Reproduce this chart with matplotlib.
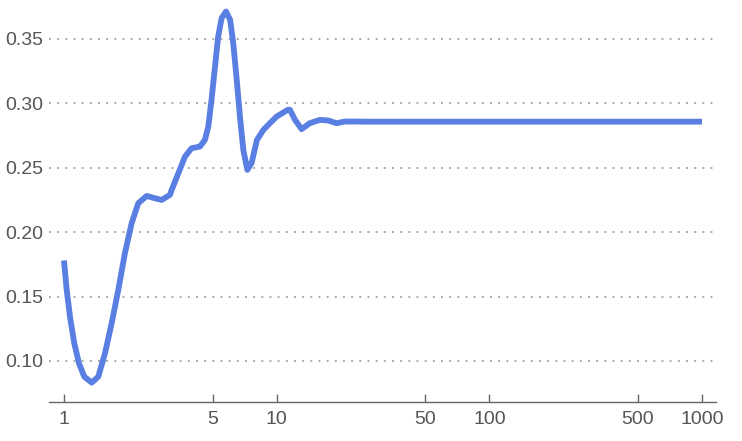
import matplotlib
matplotlib.use("Agg")
import matplotlib.pyplot as plt
from matplotlib.ticker import FixedLocator, FixedFormatter, NullLocator

# pontos (x em escala log)
xs = [1.0, 1.03, 1.067, 1.118, 1.176, 1.246, 1.35, 1.45, 1.559, 1.676, 1.8,
      1.934, 2.08, 2.235, 2.45, 2.67, 2.88, 3.15, 3.21, 3.45, 3.707, 3.98,
      4.36, 4.60, 4.77, 4.94, 5.13, 5.31, 5.51, 5.78, 6.04, 6.25, 6.49, 6.72,
      6.97, 7.28, 7.62, 8.08, 8.66, 9.29, 10.0, 11.28, 11.55, 12.2, 13.1,
      14.3, 15.97, 17.5, 19.1, 20.9, 23.7, 27.0, 40.0, 100.0, 300.0, 1000.0]
ys = [0.178, 0.155, 0.1344, 0.1137, 0.0982, 0.0878, 0.0832, 0.0878, 0.106,
      0.1293, 0.1551, 0.1836, 0.2069, 0.2224, 0.2281, 0.2263, 0.225, 0.2289,
      0.2328, 0.2457, 0.2586, 0.2651, 0.2664, 0.2716, 0.2819, 0.3026, 0.3285,
      0.3518, 0.3661, 0.3712, 0.3648, 0.3467, 0.3182, 0.2897, 0.2638, 0.2483,
      0.2535, 0.2716, 0.2793, 0.2845, 0.2897, 0.2949, 0.2949, 0.2871, 0.2799,
      0.2845, 0.2871, 0.2866, 0.2845, 0.2858, 0.2858, 0.2857, 0.2857, 0.2857,
      0.2857, 0.2857]

xticks = [1, 5, 10, 50, 100, 500, 1000]
xlabels = ["1", "5", "10", "50", "100", "500", "1000"]
yticks = [0.10, 0.15, 0.20, 0.25, 0.30, 0.35]
ylabels = ["0.10", "0.15", "0.20", "0.25", "0.30", "0.35"]

plt.rcParams['font.family'] = ['Liberation Sans', 'DejaVu Sans']

fig = plt.figure(figsize=(7.42, 4.41), dpi=100)
ax = fig.add_axes([0.066, 0.088, 0.899, 0.897])

ax.plot(xs, ys, color='#5a7fe3', linewidth=4.2, solid_capstyle='butt',
        solid_joinstyle='round')

ax.set_xscale('log')
ax.set_xlim(0.85, 1164)
ax.set_ylim(0.068, 0.375)

ax.xaxis.set_major_locator(FixedLocator(xticks))
ax.xaxis.set_major_formatter(FixedFormatter(xlabels))
ax.xaxis.set_minor_locator(NullLocator())
ax.set_yticks(yticks)
ax.set_yticklabels(ylabels)

ax.grid(axis='y', linestyle=(0, (1, 3.2)), color='#aaaaaa', linewidth=1.4)
ax.set_axisbelow(True)

for lado in ['top', 'right', 'left']:
    ax.spines[lado].set_visible(False)
ax.spines['bottom'].set_color('#666666')
ax.spines['bottom'].set_linewidth(1.0)

ax.tick_params(axis='x', direction='in', length=6, width=1, color='#666666',
               labelcolor='#555555', labelsize=14, pad=6)
ax.tick_params(axis='y', length=0, labelcolor='#555555', labelsize=14, pad=4)

fig.savefig('out.png', dpi=100)
